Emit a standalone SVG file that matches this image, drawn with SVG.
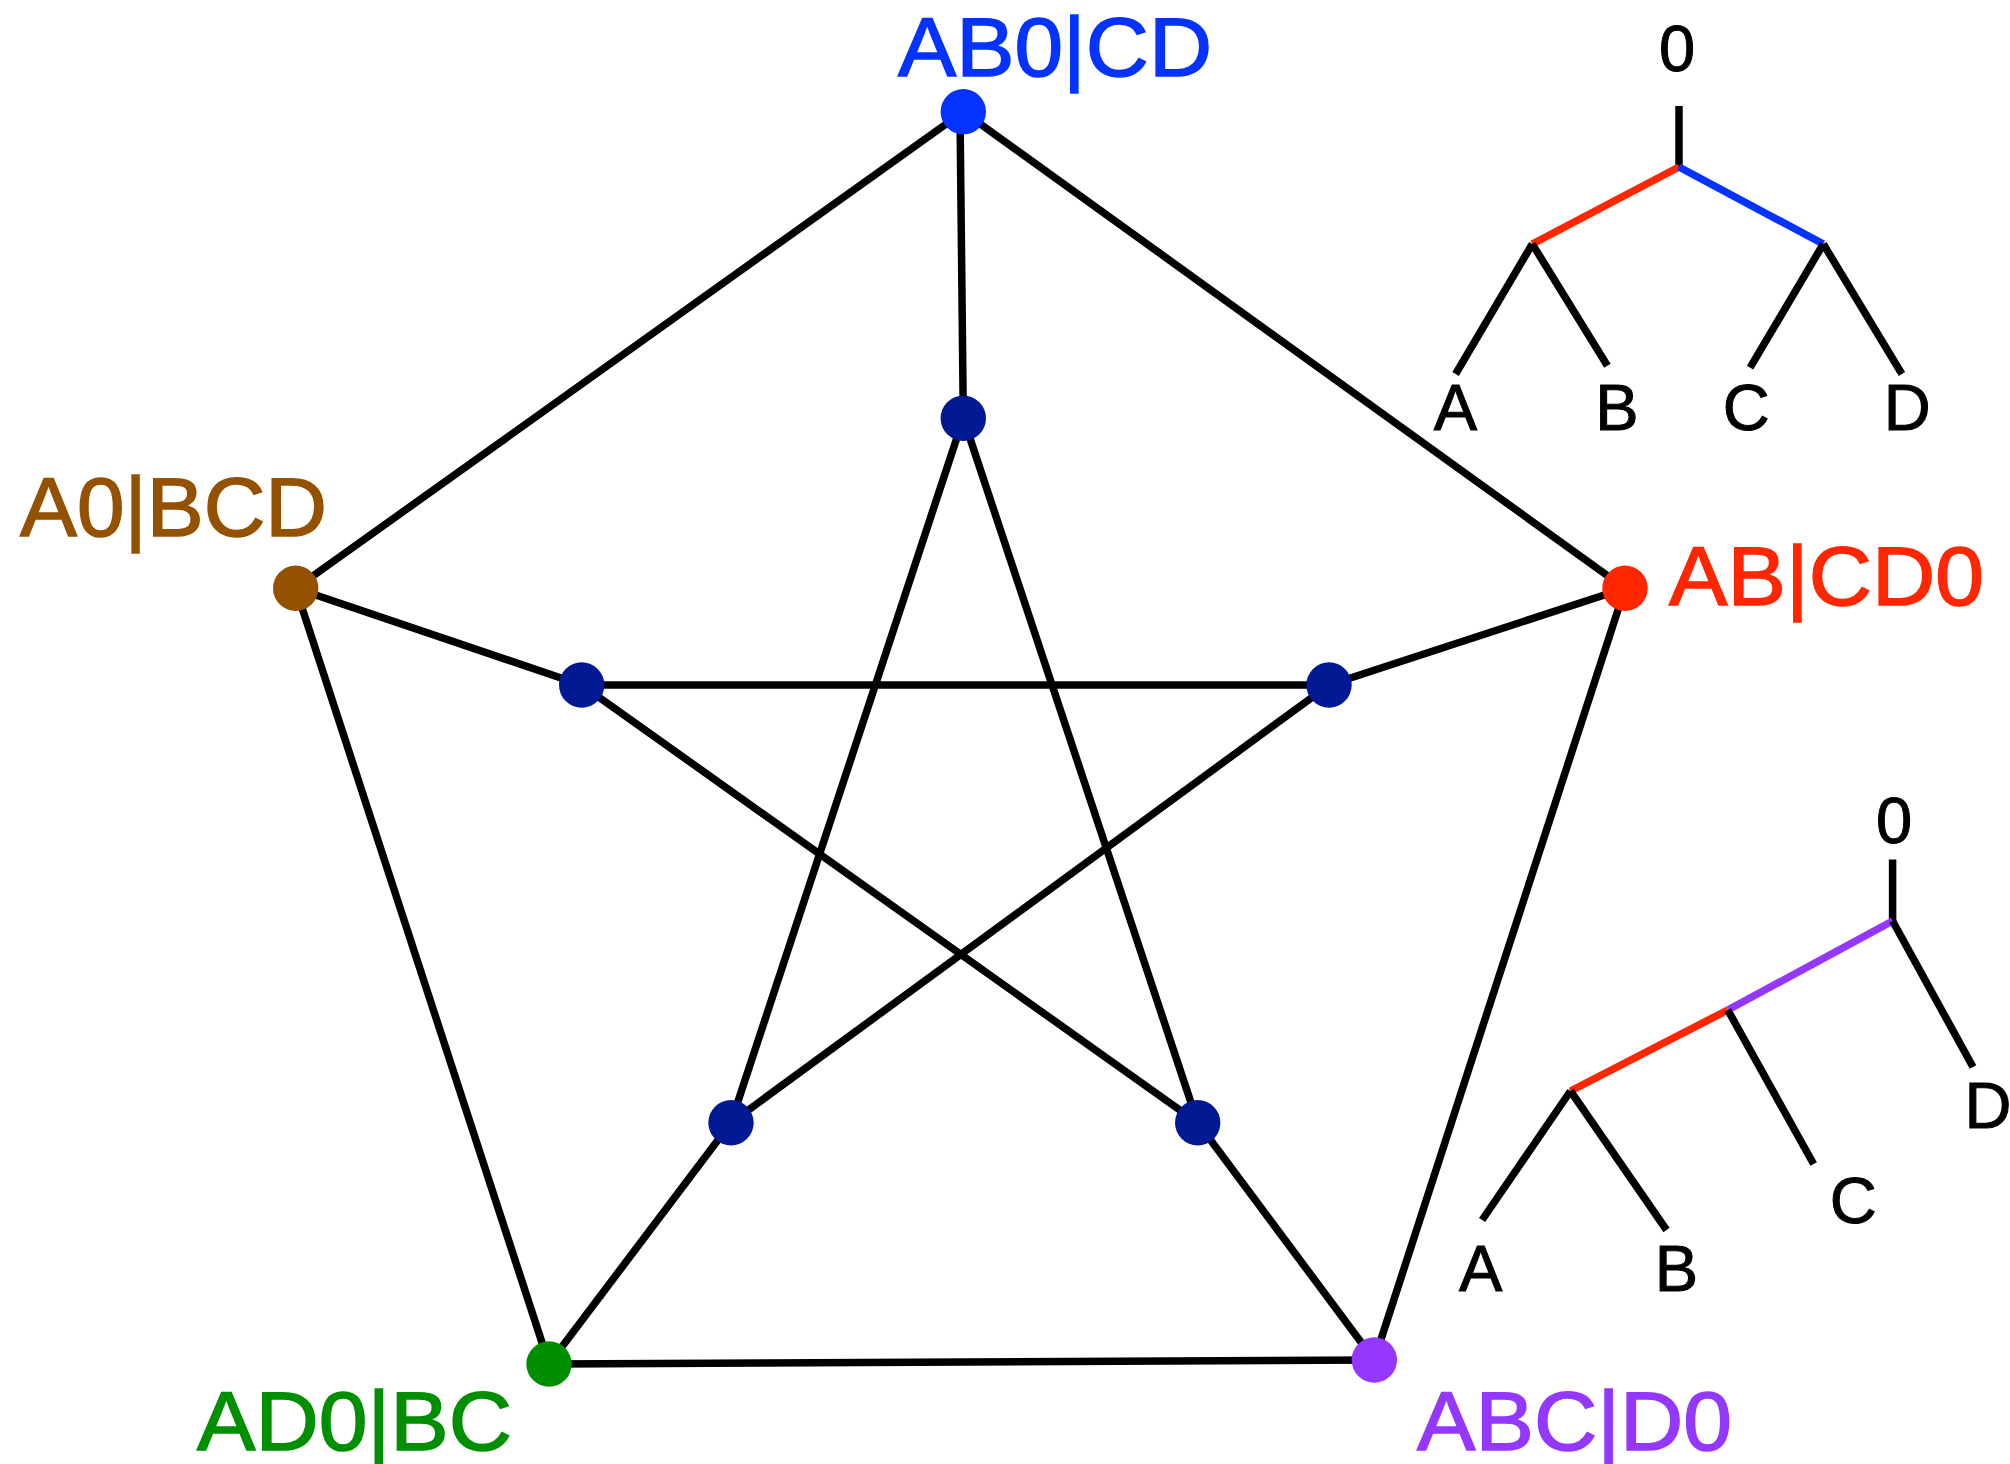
<svg xmlns="http://www.w3.org/2000/svg" width="2010" height="1464" viewBox="0 0 2010 1464">
  <style>
    .edge { stroke: #000; stroke-width: 7.5; fill: none; stroke-linecap: butt; }
    .branch { stroke: #000; stroke-width: 7.5; fill: none; stroke-linecap: butt; }
    .branch.red { stroke: #FF2600; }
    .branch.blue { stroke: #0433FF; }
    .branch.purple { stroke: #9437FF; }
    .label { font-family: "Liberation Sans", Arial, sans-serif; font-size: 84px; stroke-width: 1.5; }
    .leaf { font-family: "Liberation Sans", Arial, sans-serif; font-size: 65px; fill: #000; stroke: #000; stroke-width: 1; text-anchor: middle; }
    .inner { fill: #011993; }
  </style>
  <rect width="2010" height="1464" fill="#fff"/>

  <!-- Petersen graph edges -->
  <g id="connectors">
    <!-- outer pentagon -->
    <line class="edge" x1="963.3" y1="111.7" x2="295.7" y2="588.3"/>
    <line class="edge" x1="963.3" y1="111.7" x2="1625" y2="588.3"/>
    <line class="edge" x1="295.7" y1="588.3" x2="549" y2="1364"/>
    <line class="edge" x1="1625" y1="588.3" x2="1374.3" y2="1360"/>
    <line class="edge" x1="549" y1="1364" x2="1374.3" y2="1360"/>
    <!-- spokes -->
    <line class="edge" x1="960" y1="111.7" x2="963.3" y2="418.3"/>
    <line class="edge" x1="295.7" y1="588.3" x2="581.7" y2="685"/>
    <line class="edge" x1="1625" y1="588.3" x2="1329" y2="685"/>
    <line class="edge" x1="549" y1="1364" x2="731" y2="1122.7"/>
    <line class="edge" x1="1374.3" y1="1360" x2="1197.7" y2="1122.7"/>
    <!-- inner star -->
    <line class="edge" x1="963.3" y1="418.3" x2="731" y2="1122.7"/>
    <line class="edge" x1="963.3" y1="418.3" x2="1197.7" y2="1122.7"/>
    <line class="edge" x1="581.7" y1="685" x2="1329" y2="685"/>
    <line class="edge" x1="581.7" y1="685" x2="1197.7" y2="1122.7"/>
    <line class="edge" x1="1329" y1="685" x2="731" y2="1122.7"/>
  </g>

  <!-- outer labelled vertices -->
  <g id="node-AB0-CD">
    <circle cx="963.3" cy="111.7" r="22.7" fill="#0433FF"/>
    <text class="label" x="898" y="76" fill="#0433FF" stroke="#0433FF" textLength="314" lengthAdjust="spacingAndGlyphs">AB0|CD</text>
  </g>
  <g id="node-A0-BCD">
    <circle cx="295.7" cy="588.3" r="22.7" fill="#945200"/>
    <text class="label" x="20" y="536" fill="#945200" stroke="#945200" textLength="307" lengthAdjust="spacingAndGlyphs">A0|BCD</text>
  </g>
  <g id="node-AB-CD0">
    <circle cx="1625" cy="588.3" r="22.7" fill="#FF2600"/>
    <text class="label" x="1669" y="605" fill="#FF2600" stroke="#FF2600" textLength="315" lengthAdjust="spacingAndGlyphs">AB|CD0</text>
  </g>
  <g id="node-AD0-BC">
    <circle cx="549" cy="1364" r="22.7" fill="#008F00"/>
    <text class="label" x="197" y="1450" fill="#008F00" stroke="#008F00" textLength="315" lengthAdjust="spacingAndGlyphs">AD0|BC</text>
  </g>
  <g id="node-ABC-D0">
    <circle cx="1374.3" cy="1360" r="22.7" fill="#9437FF"/>
    <text class="label" x="1417" y="1450" fill="#9437FF" stroke="#9437FF" textLength="315" lengthAdjust="spacingAndGlyphs">ABC|D0</text>
  </g>

  <!-- inner unlabelled vertices -->
  <g id="node-inner-top"><circle class="inner" cx="963.3" cy="418.3" r="22.7"/></g>
  <g id="node-inner-left"><circle class="inner" cx="581.7" cy="685" r="22.7"/></g>
  <g id="node-inner-right"><circle class="inner" cx="1329" cy="685" r="22.7"/></g>
  <g id="node-inner-bottom-left"><circle class="inner" cx="731" cy="1122.7" r="22.7"/></g>
  <g id="node-inner-bottom-right"><circle class="inner" cx="1197.7" cy="1122.7" r="22.7"/></g>

  <!-- balanced tree ((A,B),(C,D)) rooted at 0 -->
  <g id="tree-balanced">
    <text class="leaf" x="1677" y="70.7">0</text>
    <line class="branch" x1="1679" y1="106" x2="1679" y2="167"/>
    <line class="branch red" x1="1679" y1="167" x2="1532.3" y2="244"/>
    <line class="branch blue" x1="1679" y1="167" x2="1823.3" y2="244"/>
    <line class="branch" x1="1532.3" y1="244" x2="1455.6" y2="374"/>
    <line class="branch" x1="1532.3" y1="244" x2="1607.4" y2="365.7"/>
    <line class="branch" x1="1823.3" y1="244" x2="1750.1" y2="367.7"/>
    <line class="branch" x1="1823.3" y1="244" x2="1901.9" y2="374"/>
    <text class="leaf" x="1455.4" y="429.5">A</text>
    <text class="leaf" x="1616.9" y="429.5">B</text>
    <text class="leaf" x="1746.2" y="429.5">C</text>
    <text class="leaf" x="1907.3" y="429.5">D</text>
  </g>

  <!-- caterpillar tree (((A,B),C),D) rooted at 0 -->
  <g id="tree-caterpillar">
    <text class="leaf" x="1894" y="843">0</text>
    <line class="branch" x1="1892.6" y1="859.5" x2="1892.6" y2="921"/>
    <line class="branch red" x1="1727.8" y1="1010" x2="1570.5" y2="1091"/>
    <line class="branch purple" x1="1892.6" y1="921" x2="1727.8" y2="1010"/>
    <line class="branch" x1="1892.6" y1="921" x2="1973" y2="1067"/>
    <line class="branch" x1="1727.8" y1="1010" x2="1813.6" y2="1164"/>
    <line class="branch" x1="1570.5" y1="1091" x2="1482.1" y2="1220"/>
    <line class="branch" x1="1570.5" y1="1091" x2="1666.5" y2="1230"/>
    <text class="leaf" x="1988" y="1128">D</text>
    <text class="leaf" x="1853.3" y="1223">C</text>
    <text class="leaf" x="1480.8" y="1291">A</text>
    <text class="leaf" x="1676.4" y="1291">B</text>
  </g>
</svg>
